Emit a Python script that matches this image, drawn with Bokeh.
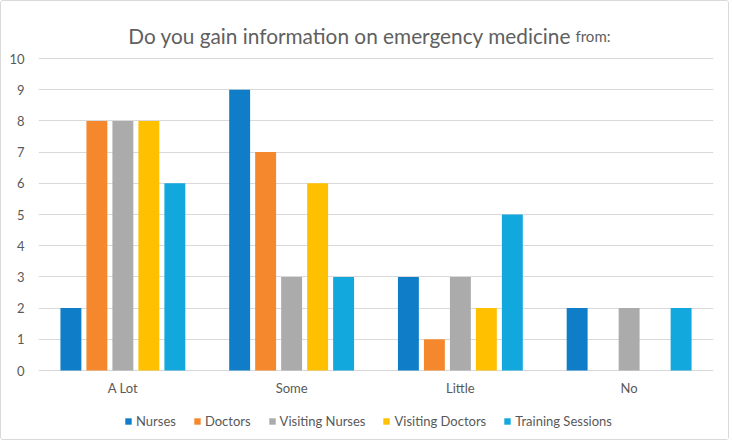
from bokeh.plotting import figure
from bokeh.models import (ColumnDataSource, FactorRange, Range1d, Legend, LegendItem,
                          Label, FixedTicker)
from bokeh.core.properties import value
from bokeh.transform import dodge
from bokeh.embed import file_html
from bokeh.resources import INLINE

categories = ["A Lot", "Some", "Little", "No"]
series_names = ["Nurses", "Doctors", "Visiting Nurses", "Visiting Doctors", "Training Sessions"]
nurses = [2, 9, 3, 2]
doctors = [8, 7, 1, 0]
visiting_nurses = [8, 3, 3, 2]
visiting_doctors = [8, 6, 2, 0]
training_sessions = [6, 3, 5, 2]
colors = ["#0F7DC8", "#F5872C", "#ABABAB", "#FFC000", "#12A8DE"]
y_ticks = [0, 1, 2, 3, 4, 5, 6, 7, 8, 9, 10]

FONT = "Lato"
TXT = "#595959"

src = ColumnDataSource(dict(cat=categories, s0=nurses, s1=doctors, s2=visiting_nurses,
                            s3=visiting_doctors, s4=training_sessions))

# frame spans the full canvas height; y range extended so that title, category
# labels and legend live inside the frame
PX = 31.2
p = figure(width=729, height=440, x_range=FactorRange(*categories),
           y_range=Range1d(-71 / PX, 369 / PX),
           output_backend="svg", toolbar_location=None, tools="",
           min_border_left=37, min_border_right=17, min_border_top=0, min_border_bottom=0)
p.outline_line_color = None
p.styles = {"border": "1px solid #D9D9D9", "border-radius": "3px"}
p.xaxis.visible = False

offsets = [-0.308, -0.154, 0.0, 0.154, 0.308]
items = []
for i, name in enumerate(series_names):
    r = p.vbar(x=dodge("cat", offsets[i], range=p.x_range), top="s%d" % i, width=0.124,
               source=src, fill_color=colors[i], line_color=None)
    items.append(LegendItem(label=name, renderers=[r]))

p.xgrid.grid_line_color = None
p.ygrid.grid_line_color = "#D9D9D9"
p.ygrid.ticker = FixedTicker(ticks=y_ticks)
p.yaxis.ticker = FixedTicker(ticks=y_ticks)
p.yaxis.axis_line_color = None
p.yaxis.major_tick_line_color = None
p.yaxis.minor_tick_line_color = None
p.yaxis.major_label_standoff = 8
p.yaxis.major_label_text_font = FONT
p.yaxis.major_label_text_font_size = "13px"
p.yaxis.major_label_text_color = TXT

# category labels under the zero line
p.text(x=categories, y=[-0.55] * len(categories), text=categories,
       text_align="center", text_baseline="middle", text_font=value(FONT),
       text_font_size="13px", text_color=TXT)

legend = Legend(items=items, orientation="horizontal", location=(86, 12),
                glyph_width=8, glyph_height=8, label_standoff=4, spacing=17,
                label_text_font=FONT, label_text_font_size="13px", label_text_color=TXT,
                border_line_color=None, background_fill_alpha=0, padding=2, margin=0)
p.add_layout(legend, "center")

t1 = Label(x=3.158, y=335 / PX, text="Do you gain information on emergency medicine",
           text_align="right", text_baseline="alphabetic", text_font=FONT,
           text_font_size="20.8px", text_color="#606060")
t2 = Label(x=3.182, y=335 / PX, text="from:", text_align="left", text_baseline="alphabetic",
           text_font=FONT, text_font_size="15px", text_color="#606060")
p.add_layout(t1)
p.add_layout(t2)

open("out.html", "w").write(file_html(p, INLINE))
